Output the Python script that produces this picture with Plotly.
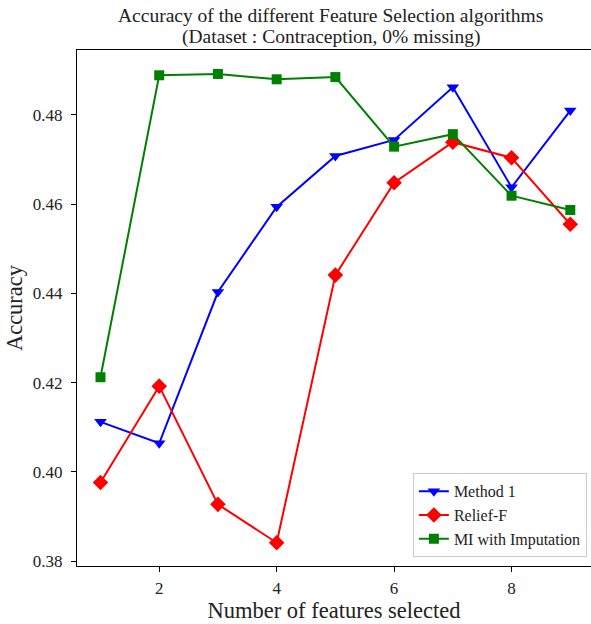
import plotly.graph_objects as go

# Number of selected features
n_features = [1, 2, 3, 4, 5, 6, 7, 8, 9]

# Accuracy per method
method1 = [0.4112, 0.4064, 0.4403, 0.4594, 0.4708, 0.4744, 0.4862, 0.4638, 0.4810]
relief_f = [0.3976, 0.4192, 0.3927, 0.3841, 0.4441, 0.4648, 0.4739, 0.4704, 0.4555]
mi_imputation = [0.4212, 0.4889, 0.4892, 0.4880, 0.4885, 0.4729, 0.4757, 0.4619, 0.4587]

x_ticks = [2, 4, 6, 8]
y_ticks = [0.38, 0.40, 0.42, 0.44, 0.46, 0.48]

title_lines = [
    "Accuracy of the different Feature Selection algorithms",
    "(Dataset : Contraception, 0% missing)",
]

FONT = "Liberation Serif"
TEXT = "#222222"

fig = go.Figure()
fig.add_trace(go.Scatter(
    x=n_features, y=method1, name="Method 1", mode="lines+markers",
    line=dict(color="#0000ff", width=2),
    marker=dict(symbol="triangle-down", size=11, color="#0000ff"),
))
fig.add_trace(go.Scatter(
    x=n_features, y=relief_f, name="Relief-F", mode="lines+markers",
    line=dict(color="#ff0000", width=2),
    marker=dict(symbol="diamond", size=12, color="#ff0000"),
))
fig.add_trace(go.Scatter(
    x=n_features, y=mi_imputation, name="MI with Imputation", mode="lines+markers",
    line=dict(color="#008000", width=2),
    marker=dict(symbol="square", size=10, color="#008000"),
))

# Two-line title, one annotation per line
for i, line in enumerate(title_lines):
    fig.add_annotation(
        text=line, showarrow=False,
        xref="paper", x=0.494, xanchor="center",
        yref="paper", y=1 + (35 - 22 * i) / 516, yanchor="middle",
        font=dict(family=FONT, size=19.5, color=TEXT),
    )

fig.update_layout(
    width=591, height=624,
    margin=dict(l=77, r=0, t=50, b=58),
    plot_bgcolor="white", paper_bgcolor="white",
    font=dict(family=FONT, color=TEXT, size=16),
    xaxis=dict(
        range=[0.6, 9.353], tickvals=x_ticks, ticktext=[str(t) for t in x_ticks],
        showgrid=False, zeroline=False,
        showline=True, linecolor="black", linewidth=1, mirror=True,
        ticks="outside", ticklen=5, tickcolor="black", tickwidth=1,
        ticklabelstandoff=2,
        tickfont=dict(family=FONT, size=17, color=TEXT),
        title=dict(text="Number of features selected", standoff=3,
                   font=dict(family=FONT, size=22.5, color=TEXT)),
    ),
    yaxis=dict(
        range=[0.37888, 0.49457], tickvals=y_ticks,
        ticktext=[f"{t:.2f}" for t in y_ticks],
        showgrid=False, zeroline=False,
        showline=True, linecolor="black", linewidth=1,
        ticks="outside", ticklen=5, tickcolor="black", tickwidth=1,
        ticklabelstandoff=5,
        tickfont=dict(family=FONT, size=17, color=TEXT),
        title=dict(text="Accuracy", standoff=3,
                   font=dict(family=FONT, size=22.5, color=TEXT)),
    ),
    legend=dict(
        x=0.992, y=0.017, xanchor="right", yanchor="bottom",
        bgcolor="white", bordercolor="#cccccc", borderwidth=1,
        font=dict(family=FONT, size=16, color=TEXT),
        tracegroupgap=0, itemwidth=30,
    ),
    showlegend=True,
)

fig.write_html("out.html")
